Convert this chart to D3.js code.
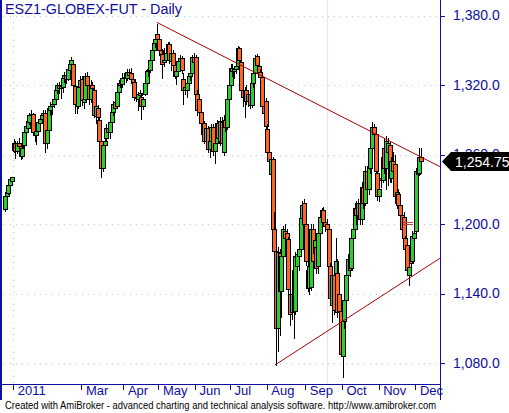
<!DOCTYPE html>
<html>
<head>
<meta charset="utf-8">
<script src="https://cdn.jsdelivr.net/npm/d3@7"></script>
<style>
  html, body { margin: 0; padding: 0; background: #fff; }
  svg { display: block; }
</style>
</head>
<body>
<svg id="chart" width="509" height="413"></svg>
<script>
'use strict';

// daily bars, oldest first (late Dec 2010 .. early Dec 2011)
var openP = [
  1213, 1224, 1227, 1234, 1237, 1264, 1270, 1263, 1270, 1267,
  1259, 1268, 1279, 1283, 1288, 1294, 1295, 1279, 1277, 1280,
  1287, 1291, 1294, 1296, 1270, 1281, 1298, 1302, 1304, 1308,
  1316, 1320, 1317, 1318, 1326, 1329, 1325, 1333, 1338, 1338,
  1319, 1304, 1302, 1318, 1325, 1305, 1308, 1328, 1320, 1308,
  1320, 1316, 1293, 1300, 1290, 1272, 1248, 1268, 1274, 1283,
  1279, 1288, 1297, 1305, 1302, 1314, 1322, 1321, 1326, 1327,
  1326, 1331, 1330, 1325, 1323, 1310, 1308, 1311, 1310, 1302,
  1312, 1322, 1332, 1333, 1342, 1350, 1356, 1364, 1360, 1350,
  1347, 1340, 1342, 1348, 1355, 1341, 1348, 1337, 1328, 1332,
  1341, 1343, 1325, 1316, 1316, 1322, 1328, 1330, 1344, 1344,
  1312, 1308, 1297, 1278, 1287, 1272, 1283, 1265, 1272, 1284,
  1263, 1270, 1287, 1272, 1288, 1262, 1290, 1284, 1308, 1320,
  1335, 1332, 1334, 1336, 1352, 1340, 1316, 1310, 1316, 1306,
  1312, 1303, 1322, 1330, 1345, 1336, 1331, 1327, 1302, 1306,
  1282, 1262, 1243, 1256, 1196, 1177, 1110, 1175, 1142, 1172,
  1194, 1192, 1187, 1140, 1124, 1160, 1125, 1164, 1172, 1178,
  1205, 1218, 1200, 1160, 1145, 1146, 1196, 1175, 1180, 1164,
  1192, 1206, 1212, 1202, 1200, 1196, 1164, 1130, 1156, 1156,
  1158, 1140, 1125, 1086, 1116, 1134, 1156, 1170, 1162, 1188,
  1196, 1214, 1208, 1218, 1204, 1232, 1218, 1246, 1230, 1248,
  1266, 1284, 1278, 1244, 1224, 1240, 1238, 1266, 1248, 1262,
  1268, 1240, 1254, 1252, 1220, 1226, 1216, 1208, 1206, 1188,
  1182, 1156, 1172, 1168, 1188, 1194, 1248, 1244, 1258
];
var highP = [
  1225, 1229, 1236, 1240, 1241, 1273, 1272, 1272, 1274, 1270,
  1268, 1280, 1286, 1291, 1296, 1298, 1296, 1282, 1282, 1289,
  1293, 1296, 1298, 1298, 1283, 1302, 1305, 1306, 1310, 1318,
  1322, 1323, 1322, 1328, 1331, 1330, 1336, 1340, 1344, 1340,
  1322, 1310, 1322, 1328, 1328, 1312, 1330, 1331, 1325, 1324,
  1323, 1317, 1304, 1303, 1292, 1276, 1272, 1280, 1286, 1286,
  1290, 1300, 1306, 1308, 1316, 1324, 1326, 1330, 1330, 1331,
  1334, 1334, 1335, 1330, 1325, 1316, 1314, 1316, 1312, 1310,
  1325, 1334, 1336, 1344, 1352, 1358, 1362, 1373, 1362, 1354,
  1351, 1352, 1351, 1357, 1357, 1350, 1350, 1341, 1334, 1343,
  1346, 1345, 1330, 1322, 1325, 1330, 1334, 1346, 1348, 1346,
  1316, 1311, 1300, 1290, 1289, 1286, 1285, 1276, 1286, 1286,
  1275, 1290, 1289, 1292, 1292, 1294, 1296, 1310, 1322, 1338,
  1338, 1336, 1340, 1354, 1353, 1342, 1320, 1318, 1320, 1314,
  1314, 1326, 1332, 1346, 1347, 1339, 1334, 1329, 1306, 1309,
  1286, 1266, 1258, 1258, 1210, 1180, 1180, 1178, 1180, 1198,
  1200, 1196, 1189, 1145, 1142, 1162, 1176, 1178, 1182, 1208,
  1220, 1222, 1204, 1170, 1168, 1200, 1200, 1190, 1186, 1195,
  1210, 1214, 1215, 1206, 1204, 1198, 1166, 1160, 1160, 1188,
  1170, 1146, 1127, 1120, 1138, 1160, 1174, 1175, 1190, 1200,
  1218, 1220, 1222, 1222, 1236, 1236, 1250, 1250, 1252, 1270,
  1288, 1286, 1280, 1246, 1232, 1258, 1260, 1274, 1276, 1274,
  1272, 1258, 1262, 1260, 1232, 1230, 1220, 1212, 1210, 1190,
  1186, 1166, 1178, 1194, 1196, 1248, 1252, 1266, 1266
];
var lowP = [
  1211, 1222, 1226, 1233, 1234, 1262, 1257, 1261, 1264, 1256,
  1257, 1266, 1277, 1281, 1286, 1290, 1277, 1272, 1269, 1278,
  1282, 1288, 1291, 1262, 1266, 1280, 1294, 1295, 1301, 1306,
  1313, 1313, 1309, 1314, 1323, 1322, 1324, 1331, 1335, 1318,
  1296, 1296, 1300, 1315, 1303, 1300, 1307, 1314, 1304, 1305,
  1311, 1292, 1287, 1287, 1266, 1241, 1246, 1262, 1272, 1277,
  1274, 1286, 1294, 1298, 1300, 1312, 1318, 1318, 1322, 1323,
  1324, 1325, 1322, 1321, 1307, 1306, 1298, 1306, 1291, 1299,
  1311, 1320, 1328, 1331, 1339, 1347, 1353, 1358, 1346, 1343,
  1326, 1336, 1340, 1347, 1339, 1333, 1334, 1326, 1321, 1330,
  1336, 1330, 1304, 1312, 1310, 1319, 1324, 1328, 1336, 1310,
  1294, 1294, 1284, 1275, 1270, 1268, 1262, 1258, 1268, 1260,
  1253, 1266, 1270, 1268, 1266, 1260, 1280, 1282, 1306, 1318,
  1328, 1326, 1330, 1334, 1338, 1314, 1302, 1292, 1304, 1302,
  1300, 1301, 1318, 1326, 1334, 1328, 1324, 1300, 1293, 1280,
  1258, 1250, 1240, 1192, 1168, 1078, 1090, 1104, 1120, 1168,
  1185, 1184, 1140, 1113, 1118, 1102, 1122, 1158, 1160, 1175,
  1200, 1196, 1165, 1142, 1140, 1143, 1164, 1162, 1158, 1158,
  1188, 1200, 1198, 1194, 1192, 1160, 1130, 1115, 1122, 1150,
  1120, 1120, 1086, 1068, 1110, 1128, 1150, 1155, 1160, 1184,
  1190, 1200, 1204, 1200, 1200, 1214, 1216, 1226, 1226, 1244,
  1262, 1274, 1244, 1221, 1220, 1232, 1236, 1244, 1230, 1234,
  1236, 1236, 1240, 1218, 1214, 1212, 1205, 1192, 1185, 1174,
  1156, 1147, 1160, 1166, 1180, 1192, 1240, 1242, 1250
];
var closeP = [
  1224, 1228, 1234, 1239, 1241, 1270, 1263, 1270, 1267, 1259,
  1266, 1279, 1285, 1289, 1294, 1295, 1279, 1277, 1280, 1288,
  1291, 1294, 1296, 1270, 1281, 1300, 1302, 1304, 1308, 1316,
  1320, 1317, 1319, 1326, 1329, 1325, 1334, 1338, 1342, 1320,
  1304, 1302, 1318, 1324, 1307, 1308, 1328, 1320, 1308, 1320,
  1317, 1294, 1302, 1292, 1272, 1248, 1268, 1272, 1283, 1279,
  1288, 1297, 1304, 1300, 1314, 1322, 1320, 1326, 1327, 1326,
  1331, 1329, 1325, 1323, 1310, 1309, 1312, 1313, 1302, 1308,
  1322, 1332, 1333, 1342, 1350, 1356, 1360, 1360, 1350, 1347,
  1338, 1342, 1348, 1355, 1342, 1348, 1337, 1328, 1332, 1341,
  1343, 1333, 1316, 1318, 1322, 1328, 1330, 1344, 1340, 1312,
  1298, 1297, 1287, 1287, 1272, 1283, 1265, 1272, 1284, 1263,
  1270, 1287, 1274, 1289, 1270, 1290, 1284, 1308, 1320, 1335,
  1332, 1334, 1336, 1352, 1342, 1316, 1310, 1316, 1306, 1312,
  1303, 1322, 1330, 1343, 1337, 1331, 1327, 1302, 1296, 1285,
  1262, 1254, 1256, 1196, 1177, 1110, 1176, 1142, 1172, 1196,
  1188, 1187, 1144, 1122, 1140, 1125, 1172, 1174, 1178, 1205,
  1216, 1200, 1168, 1145, 1164, 1196, 1168, 1186, 1162, 1192,
  1206, 1212, 1202, 1198, 1196, 1164, 1136, 1156, 1126, 1168,
  1124, 1125, 1088, 1116, 1134, 1156, 1170, 1160, 1188, 1196,
  1214, 1208, 1218, 1204, 1232, 1218, 1246, 1230, 1248, 1266,
  1284, 1278, 1246, 1224, 1230, 1238, 1256, 1248, 1272, 1270,
  1240, 1254, 1246, 1224, 1228, 1216, 1208, 1196, 1188, 1178,
  1160, 1163, 1166, 1190, 1192, 1246, 1243, 1258, 1254.75
];

var priceTicks = [1080, 1140, 1200, 1260, 1320, 1380];
var monthLabels = ['2011', 'Mar', 'Apr', 'May', 'Jun', 'Jul', 'Aug', 'Sep', 'Oct', 'Nov', 'Dec'];
var monthBars = [5, 44, 68, 88, 109, 129, 150, 172, 193, 214, 235];

// hand drawn study lines: [bar, price]
var trendDown = [[86.9, 1374], [248.7, 1249.5]];
var trendUp = [[154.4, 1078.3], [248.7, 1170.4]];
var markBars = [227.6, 233.3];
var markPrices = [1201.5, 1199.7];
var selectedBar = 184.4;
var yearBar = 4.6;

var titleText = 'ESZ1-GLOBEX-FUT - Daily';
var footerText = 'Created with AmiBroker - advanced charting and technical analysis software. http://www.amibroker.com';

var plotRight = 440,
    plotBottom = 384,
    axisBlue = '#0e0ea0',
    upColor = '#2ecc2e',
    downColor = '#ff6424',
    gridColor = '#9edada',
    lineRed = '#a80000';

var svg = d3.select('#chart');

var x = d3.scaleLinear().domain([0, 238]).range([5, 421.2]);
var y = d3.scaleLinear().domain([1080, 1380]).range([363, 15.5]);

function px(v) { return Math.round(v) + 0.5; }

svg.append('rect').attr('width', 509).attr('height', 413).attr('fill', '#fff');

// dotted grid
var grid = svg.append('g').attr('class', 'grid');
priceTicks.forEach(function(p) {
  grid.append('line')
    .attr('x1', 4).attr('x2', plotRight)
    .attr('y1', px(y(p))).attr('y2', px(y(p)))
    .attr('stroke', gridColor)
    .attr('stroke-dasharray', '1,5');
});
grid.append('line')
  .attr('x1', px(x(yearBar))).attr('x2', px(x(yearBar)))
  .attr('y1', 4).attr('y2', plotBottom)
  .attr('stroke', gridColor)
  .attr('stroke-dasharray', '1,5');

// selected date marker
svg.append('line')
  .attr('x1', px(x(selectedBar))).attr('x2', px(x(selectedBar)))
  .attr('y1', 0).attr('y2', plotBottom)
  .attr('stroke', '#fadcdc');

// candles, drawn left to right so each overlaps the previous one
var candles = svg.append('g').attr('class', 'candles').attr('shape-rendering', 'crispEdges');
closeP.forEach(function(c, i) {
  var o = openP[i],
      cx = Math.round(x(i)),
      top = Math.round(y(Math.max(o, c))),
      bot = Math.round(y(Math.min(o, c))),
      g = candles.append('g');
  g.append('line')
    .attr('x1', cx + 0.5).attr('x2', cx + 0.5)
    .attr('y1', Math.round(y(highP[i]))).attr('y2', Math.round(y(lowP[i])) + 1)
    .attr('stroke', '#000');
  g.append('rect')
    .attr('x', cx - 1.5)
    .attr('y', top + 0.5)
    .attr('width', 4)
    .attr('height', Math.max(bot - top, 1))
    .attr('fill', c >= o ? upColor : downColor)
    .attr('stroke', '#000');
});

// trend lines
var lineGen = d3.line()
  .x(function(d) { return x(d[0]); })
  .y(function(d) { return y(d[1]); });
[trendDown, trendUp].forEach(function(pts) {
  svg.append('path')
    .attr('d', lineGen(pts))
    .attr('fill', 'none')
    .attr('stroke', lineRed)
    .attr('stroke-width', 1);
});
markPrices.forEach(function(p) {
  svg.append('line')
    .attr('x1', x(markBars[0])).attr('x2', x(markBars[1]))
    .attr('y1', px(y(p))).attr('y2', px(y(p)))
    .attr('stroke', '#c04040')
    .attr('shape-rendering', 'crispEdges');
});

// frame
var frame = svg.append('g').attr('shape-rendering', 'crispEdges').attr('stroke', axisBlue);
frame.append('line').attr('x1', 1).attr('x2', 1).attr('y1', 0).attr('y2', 400).attr('stroke-width', 2);
frame.append('line').attr('x1', plotRight + 0.5).attr('x2', plotRight + 0.5).attr('y1', 0).attr('y2', 400);
frame.append('line').attr('x1', 0).attr('x2', plotRight).attr('y1', plotBottom + 0.5).attr('y2', plotBottom + 0.5);

// price axis
var yAxis = svg.append('g')
  .attr('transform', 'translate(' + (plotRight + 1) + ',0)')
  .call(d3.axisRight(y)
    .tickValues(priceTicks)
    .tickSize(4)
    .tickPadding(8)
    .tickFormat(d3.format(',.1f')));
yAxis.select('.domain').remove();
yAxis.selectAll('.tick line').attr('stroke', axisBlue).attr('shape-rendering', 'crispEdges');
yAxis.selectAll('.tick text')
  .attr('fill', axisBlue)
  .style('font-family', 'Arial, "Liberation Sans", sans-serif')
  .style('font-size', '14px');

// date axis
var xAxis = svg.append('g')
  .attr('transform', 'translate(-0.5,' + (plotBottom + 1) + ')')
  .call(d3.axisBottom(x)
    .tickValues(monthBars)
    .tickSize(5)
    .tickFormat(function(d, i) { return monthLabels[i]; }));
xAxis.select('.domain').remove();
xAxis.selectAll('.tick line').attr('stroke', axisBlue).attr('shape-rendering', 'crispEdges');
xAxis.selectAll('.tick text')
  .attr('fill', axisBlue)
  .attr('text-anchor', 'start')
  .attr('x', 4)
  .attr('y', 1)
  .attr('dy', '0.71em')
  .style('font-family', 'Arial, "Liberation Sans", sans-serif')
  .style('font-size', '13px');

// last price tag
var lastY = Math.round(y(closeP[closeP.length - 1])) + 0.5;
svg.append('path')
  .attr('d', 'M' + (plotRight + 2) + ',' + lastY +
    'L' + (plotRight + 11) + ',' + (lastY - 9.5) +
    'L509,' + (lastY - 9.5) + 'L509,' + (lastY + 9.5) +
    'L' + (plotRight + 11) + ',' + (lastY + 9.5) + 'Z')
  .attr('fill', '#000');
svg.append('text')
  .attr('x', plotRight + 15)
  .attr('y', lastY + 5)
  .attr('fill', '#fff')
  .style('font-family', 'Arial, "Liberation Sans", sans-serif')
  .style('font-size', '14px')
  .text(d3.format(',.2f')(closeP[closeP.length - 1]));

svg.append('text')
  .attr('x', 5)
  .attr('y', 14)
  .attr('fill', axisBlue)
  .attr('textLength', 177)
  .attr('lengthAdjust', 'spacingAndGlyphs')
  .style('font-family', 'Arial, "Liberation Sans", sans-serif')
  .style('font-size', '14px')
  .text(titleText);

svg.append('text')
  .attr('x', 5)
  .attr('y', 409)
  .attr('fill', '#000')
  .attr('textLength', 431)
  .attr('lengthAdjust', 'spacingAndGlyphs')
  .style('font-family', 'Arial, "Liberation Sans", sans-serif')
  .style('font-size', '11px')
  .text(footerText);
</script>
</body>
</html>
